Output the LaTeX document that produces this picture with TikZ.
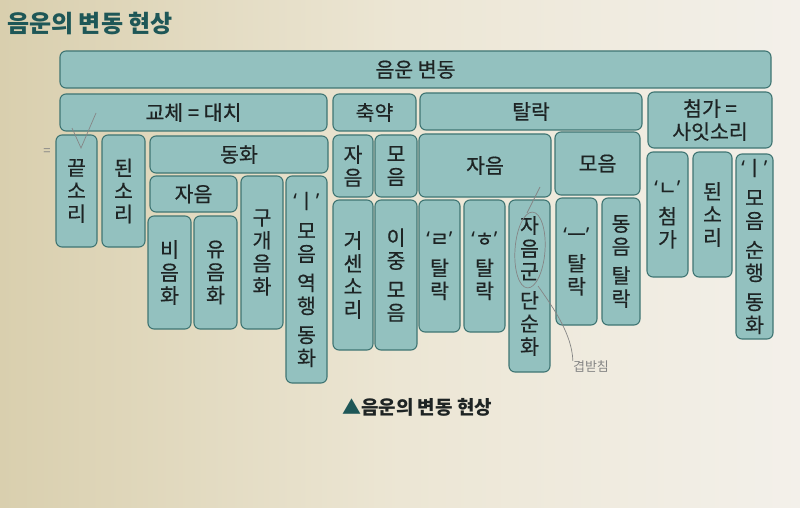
\documentclass[tikz,border=0pt]{standalone}
\usepackage{fontspec}
\setmainfont{Noto Sans CJK KR}
\newfontfamily\boxfont{Noto Sans CJK KR}[FakeBold=0.5]
\newfontfamily\qfont{Noto Sans}
\definecolor{boxfill}{HTML}{93C1BF}
\definecolor{boxline}{HTML}{3F7573}
\definecolor{titlecol}{HTML}{1E5757}
\definecolor{txt}{HTML}{1E2424}
\definecolor{paperL}{HTML}{D9CFAE}
\definecolor{paperM}{HTML}{ECE6D4}
\definecolor{paperR}{HTML}{F3F0EA}
\definecolor{pencil}{HTML}{858585}
\newcommand\qj[1]{{\qfont‘}#1{\qfont’}}
\newcommand\bx[6]{%
  \pgfmathsetmacro\bw{#4-#2}\pgfmathsetmacro\bh{#5-#3}%
  \node[box,minimum width=\bw pt,minimum height=\bh pt] (#1) at ({(#2+#4)/2},{(#3+#5)/2}) {#6};}
\tikzset{
  box/.style={draw=boxline,fill=boxfill,rounded corners=6pt,line width=1.1pt,inner sep=0pt,
    text=txt,font=\boxfont\fontsize{20.5}{23}\selectfont,align=center},
  pencilline/.style={draw=pencil,line width=0.7pt},
  penciltext/.style={text=pencil,font=\fontsize{13}{13}\selectfont,inner sep=0pt}
}
\begin{document}
\begin{tikzpicture}[x=1pt,y=-1pt]
\useasboundingbox (0,0) rectangle (800,508);
\shade[left color=paperL,right color=paperR,middle color=paperM] (0,0) rectangle (800,508);
\node[anchor=west,text=titlecol,font=\fontsize{24}{24}\selectfont\bfseries,inner sep=0pt] (title) at (7,24) {음운의 변동 현상};
% level 1
\bx{root}{60}{51}{771}{88}{음운 변동}
% level 2
\bx{gyoche}{60}{94}{327}{131}{교체 = 대치}
\bx{chuk}{333}{94}{416}{131}{축약}
\bx{tal}{420}{93}{642}{130}{탈락}
\bx{cheom}{648}{92}{772}{148}{첨가 =\\[0pt]사잇소리}
% 교체
\bx{kkeut}{56}{135}{97}{247}{끝\\소\\리}
\bx{doen}{102}{135}{145}{247}{된\\소\\리}
\bx{dong}{150}{136}{328}{173}{동화}
\bx{dj}{150}{176}{237}{212}{자음}
\bx{bi}{148}{216}{191}{329}{비\\음\\화}
\bx{yu}{194}{216}{237}{329}{유\\음\\화}
\bx{gu}{241}{176}{283}{329}{구\\개\\음\\화}
\bx{yeok}{286}{176}{327}{383}{\qj{ㅣ}\\[7pt]모\\음\\[6pt]역\\행\\[6pt]동\\화}
% 축약
\bx{cj}{333}{135}{373}{197}{자\\음}
\bx{cm}{375}{135}{417}{197}{모\\음}
\bx{geo}{333}{200}{373}{350}{거\\센\\소\\리}
\bx{ijung}{375}{200}{417}{350}{이\\중\\[6pt]모\\음}
% 탈락
\bx{tj}{419}{134}{551}{197}{자음}
\bx{tm}{555}{132}{640}{195}{모음}
\bx{rieul}{419}{200}{460}{332}{\qj{ㄹ}\\[6pt]탈\\락}
\bx{hieut}{464}{200}{505}{332}{\qj{ㅎ}\\[6pt]탈\\락}
\bx{jag}{509}{200}{550}{372}{자\\음\\군\\[6pt]단\\순\\화}
\bx{eu}{556}{198}{597}{325}{\qj{ㅡ}\\[6pt]탈\\락}
\bx{dongeum}{602}{198}{640}{325}{동\\음\\[6pt]탈\\락}
% 첨가
\bx{nieun}{647}{152}{688}{277}{\qj{ㄴ}\\[6pt]첨\\가}
\bx{doen2}{693}{152}{732}{277}{된\\소\\리}
\bx{sun}{736}{154}{773}{339}{\qj{ㅣ}\\[7pt]모\\음\\[6pt]순\\행\\[6pt]동\\화}
% caption
\node[anchor=west,inner sep=0pt,font=\fontsize{19}{19}\selectfont\bfseries,text=txt] (cap) at (342,407) {\textcolor{titlecol}{▲}음운의 변동 현상};
% pencil annotations
\draw[pencilline,rotate around={-4:(530,250)}] (530,250) ellipse [x radius=15,y radius=38];
\coordinate (e1) at (538,286);
\node[penciltext] (gyeop) at (591,367) {겹받침};
\draw[pencilline] (e1) .. controls (555,310) and (572,335) .. (gyeop.north west);
\draw[pencilline] (540,187) -- (527,213);
\draw[pencilline] (72,128) -- (81,148) -- (96,113);
\node[penciltext] (eq) at (47,152) {=};
\end{tikzpicture}
\end{document}
